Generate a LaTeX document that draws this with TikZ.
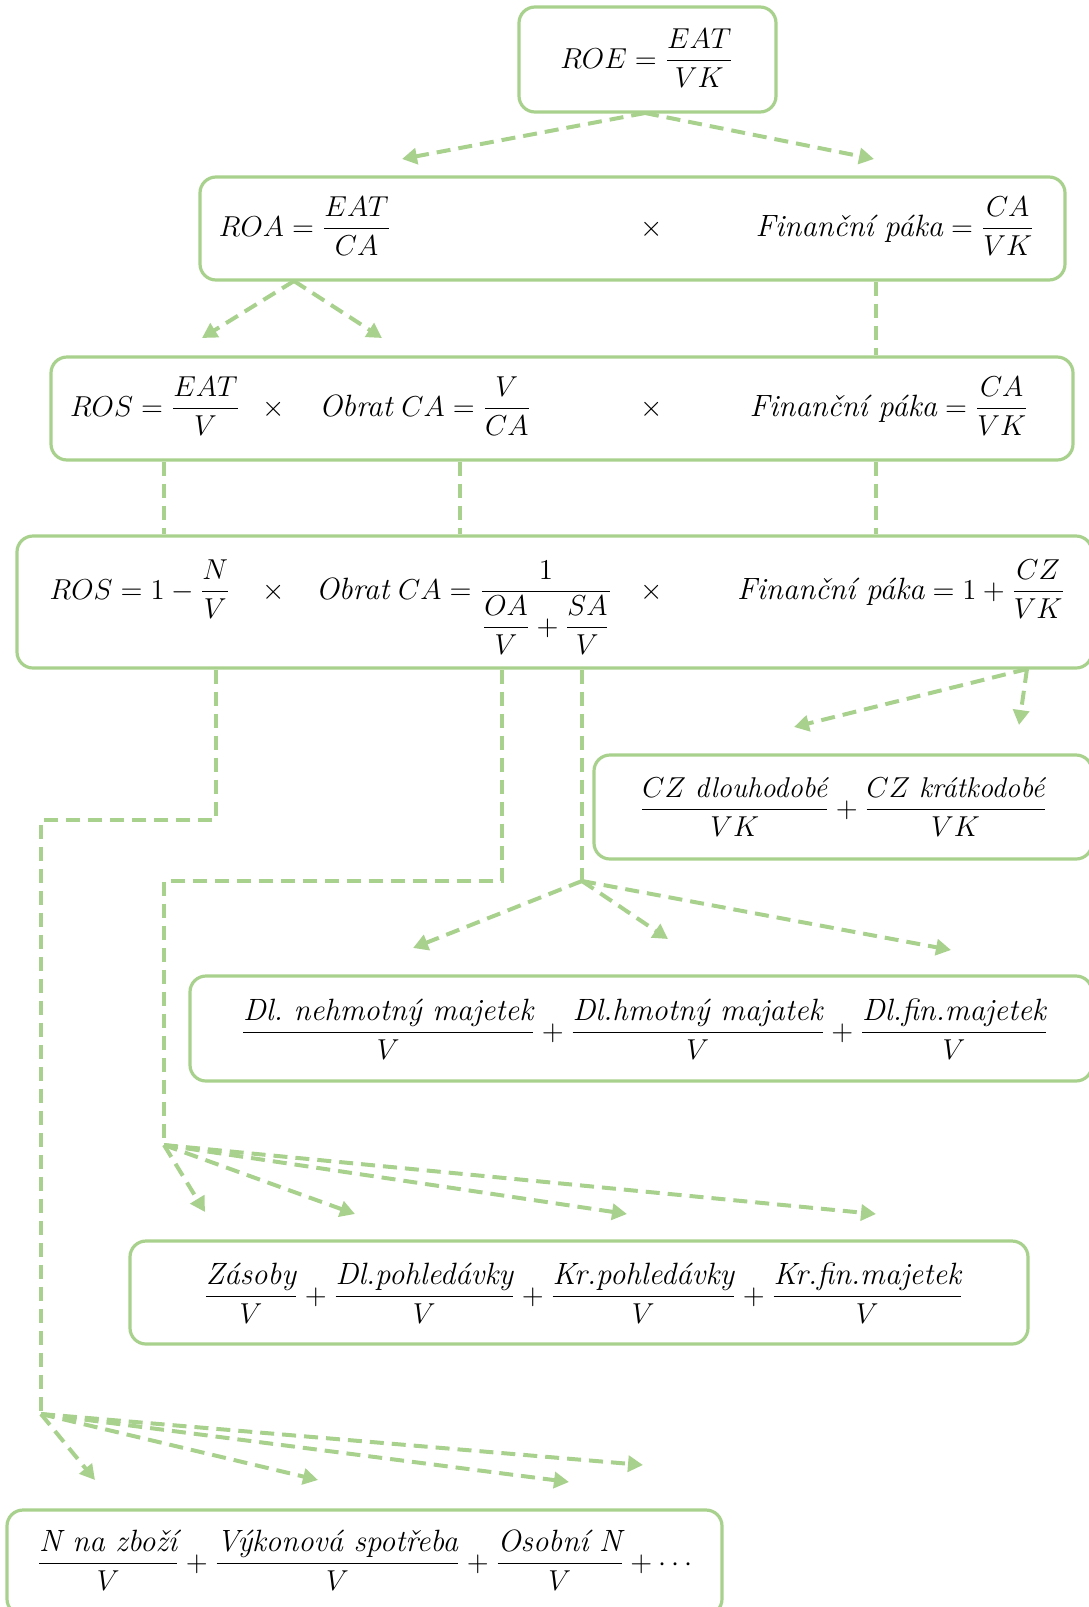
\documentclass[tikz,border=0pt]{standalone}
\usepackage{amsmath}
\usepackage{fontspec}
\usetikzlibrary{arrows.meta}
\definecolor{gr}{HTML}{A9D18E}
\tikzset{
  box/.style={draw=gr, line width=1.6pt, rounded corners=8pt, inner sep=0pt},
  link/.style={draw=gr, line width=2pt, dash pattern=on 7pt off 4pt},
  arr/.style={link, -{Triangle[length=7.5pt,width=8pt]}},
  lab/.style={inner sep=0pt, anchor=base, font=\fontsize{13.5}{16}\selectfont},
}
\newcommand\ti[1]{\textit{\fontsize{14.3}{16}\selectfont\addfontfeature{LetterSpace=5}#1}}
\newcommand\tw[1]{\textit{\fontsize{15.4}{17}\selectfont\addfontfeature{LetterSpace=6}#1}}
\begin{document}
\begin{tikzpicture}[x=0.5pt,y=-0.5pt]
\useasboundingbox (0,0) rectangle (1088,1607);
% boxes
\node[box, minimum width=128.5pt, minimum height=52.5pt] (b1) at (647.5,59.5) {};
\node[box, minimum width=432.5pt, minimum height=51.5pt] (b2) at (632.5,228.5) {};
\node[box, minimum width=511pt, minimum height=51.5pt] (b3) at (562,408.5) {};
\node[box, minimum width=537.5pt, minimum height=66pt] (b4) at (554.5,602) {};
\node[box, minimum width=249pt, minimum height=52pt] (b5) at (843,807) {};
\node[box, minimum width=451pt, minimum height=52.5pt] (b6) at (641,1028.5) {};
\node[box, minimum width=449pt, minimum height=51.5pt] (b7) at (579,1292.5) {};
\node[box, minimum width=357.5pt, minimum height=52.5pt] (b8) at (364.5,1562.5) {};
% texts
\node[lab] (t1) at (647,68) {$ROE = \dfrac{EAT}{VK}$};
\node[lab] (t2a) at (305,236) {$ROA = \dfrac{EAT}{CA}$};
\node[lab] (t2b) at (652,236) {$\times$};
\node[lab] (t2c) at (895,236) {$\tw{Finanční páka} = \dfrac{CA}{VK}$};
\node[lab] (t3a) at (155,416) {$ROS = \dfrac{EAT}{V}$};
\node[lab] (t3b) at (273.5,416) {$\times$};
\node[lab] (t3c) at (425,416) {$\tw{Obrat}\ CA = \dfrac{V}{CA}$};
\node[lab] (t3d) at (651.5,416) {$\times$};
\node[lab] (t3e) at (889,416) {$\tw{Finanční páka} = \dfrac{CA}{VK}$};
\node[lab] (t4a) at (140,599) {$ROS = 1 - \dfrac{N}{V}$};
\node[lab] (t4b) at (273.5,599) {$\times$};
\node[lab] (t4c) at (464,599) {$\tw{Obrat}\ CA = \dfrac{1}{\dfrac{OA}{V}+\dfrac{SA}{V}}$};
\node[lab] (t4d) at (651.5,599) {$\times$};
\node[lab] (t4e) at (901,599) {$\tw{Finanční páka} = 1 + \dfrac{CZ}{VK}$};
\node[lab] (t5) at (843.5,817) {$\dfrac{CZ\ \ti{dlouhodobé}}{VK}+\dfrac{CZ\ \ti{krátkodobé}}{VK}$};
\node[lab] (t6) at (644.5,1040) {$\dfrac{\tw{Dl.\ nehmotný majetek}}{V}+\dfrac{\tw{Dl.hmotný majatek}}{V}+\dfrac{\tw{Dl.fin.majetek}}{V}$};
\node[lab] (t7) at (583.5,1304) {$\dfrac{\tw{Zásoby}}{V}+\dfrac{\tw{Dl.pohledávky}}{V}+\dfrac{\tw{Kr.pohledávky}}{V}+\dfrac{\tw{Kr.fin.majetek}}{V}$};
\node[lab] (t8) at (367,1571) {$\dfrac{\tw{N na zboží}}{V}+\dfrac{\tw{Výkonová spotřeba}}{V}+\dfrac{\tw{Osobní N}}{V}+\cdots$};
% coordinates
\coordinate (h1) at (645,113);
\coordinate (e1a) at (402,159);
\coordinate (e1b) at (874,159);
\coordinate (h2) at (294,281);
\coordinate (e2a) at (202,338);
\coordinate (e2b) at (382,338);
\coordinate (v1) at (876,0);
\coordinate (v2) at (164,0);
\coordinate (v3) at (460,0);
\coordinate (p1) at (216,820);
\coordinate (p2) at (41,820);
\coordinate (h5) at (41,1414);
\coordinate (q1) at (502,881);
\coordinate (q2) at (164,881);
\coordinate (h6) at (164,1145);
\coordinate (h7) at (582,881);
\coordinate (h4) at (1027,669);
\coordinate (e4a) at (794,727);
\coordinate (e4b) at (1019,725);
\coordinate (e7a) at (413,948);
\coordinate (e7b) at (668,939);
\coordinate (e7c) at (951,950);
\coordinate (e6a) at (205,1212);
\coordinate (e6b) at (355,1214);
\coordinate (e6c) at (627,1214);
\coordinate (e6d) at (876,1214);
\coordinate (e5a) at (95,1480);
\coordinate (e5b) at (318,1480);
\coordinate (e5c) at (569,1482);
\coordinate (e5d) at (643,1465);
% connectors
\draw[arr] (h1) -- (e1a);
\draw[arr] (h1) -- (e1b);
\draw[arr] (h2) -- (e2a);
\draw[arr] (h2) -- (e2b);
\draw[link] (b2.south -| v1) -- (b3.north -| v1);
\draw[link] (b3.south -| v2) -- (b4.north -| v2);
\draw[link] (b3.south -| v3) -- (b4.north -| v3);
\draw[link] (b3.south -| v1) -- (b4.north -| v1);
\draw[link] (b4.south -| p1) -- (p1) -- (p2) -- (h5);
\draw[link] (b4.south -| q1) -- (q1) -- (q2) -- (h6);
\draw[link] (b4.south -| h7) -- (h7);
\draw[arr] (h4) -- (e4a);
\draw[arr] (h4) -- (e4b);
\draw[arr] (h7) -- (e7a);
\draw[arr] (h7) -- (e7b);
\draw[arr] (h7) -- (e7c);
\draw[arr] (h6) -- (e6a);
\draw[arr] (h6) -- (e6b);
\draw[arr] (h6) -- (e6c);
\draw[arr] (h6) -- (e6d);
\draw[arr] (h5) -- (e5a);
\draw[arr] (h5) -- (e5b);
\draw[arr] (h5) -- (e5c);
\draw[arr] (h5) -- (e5d);
\end{tikzpicture}
\end{document}
